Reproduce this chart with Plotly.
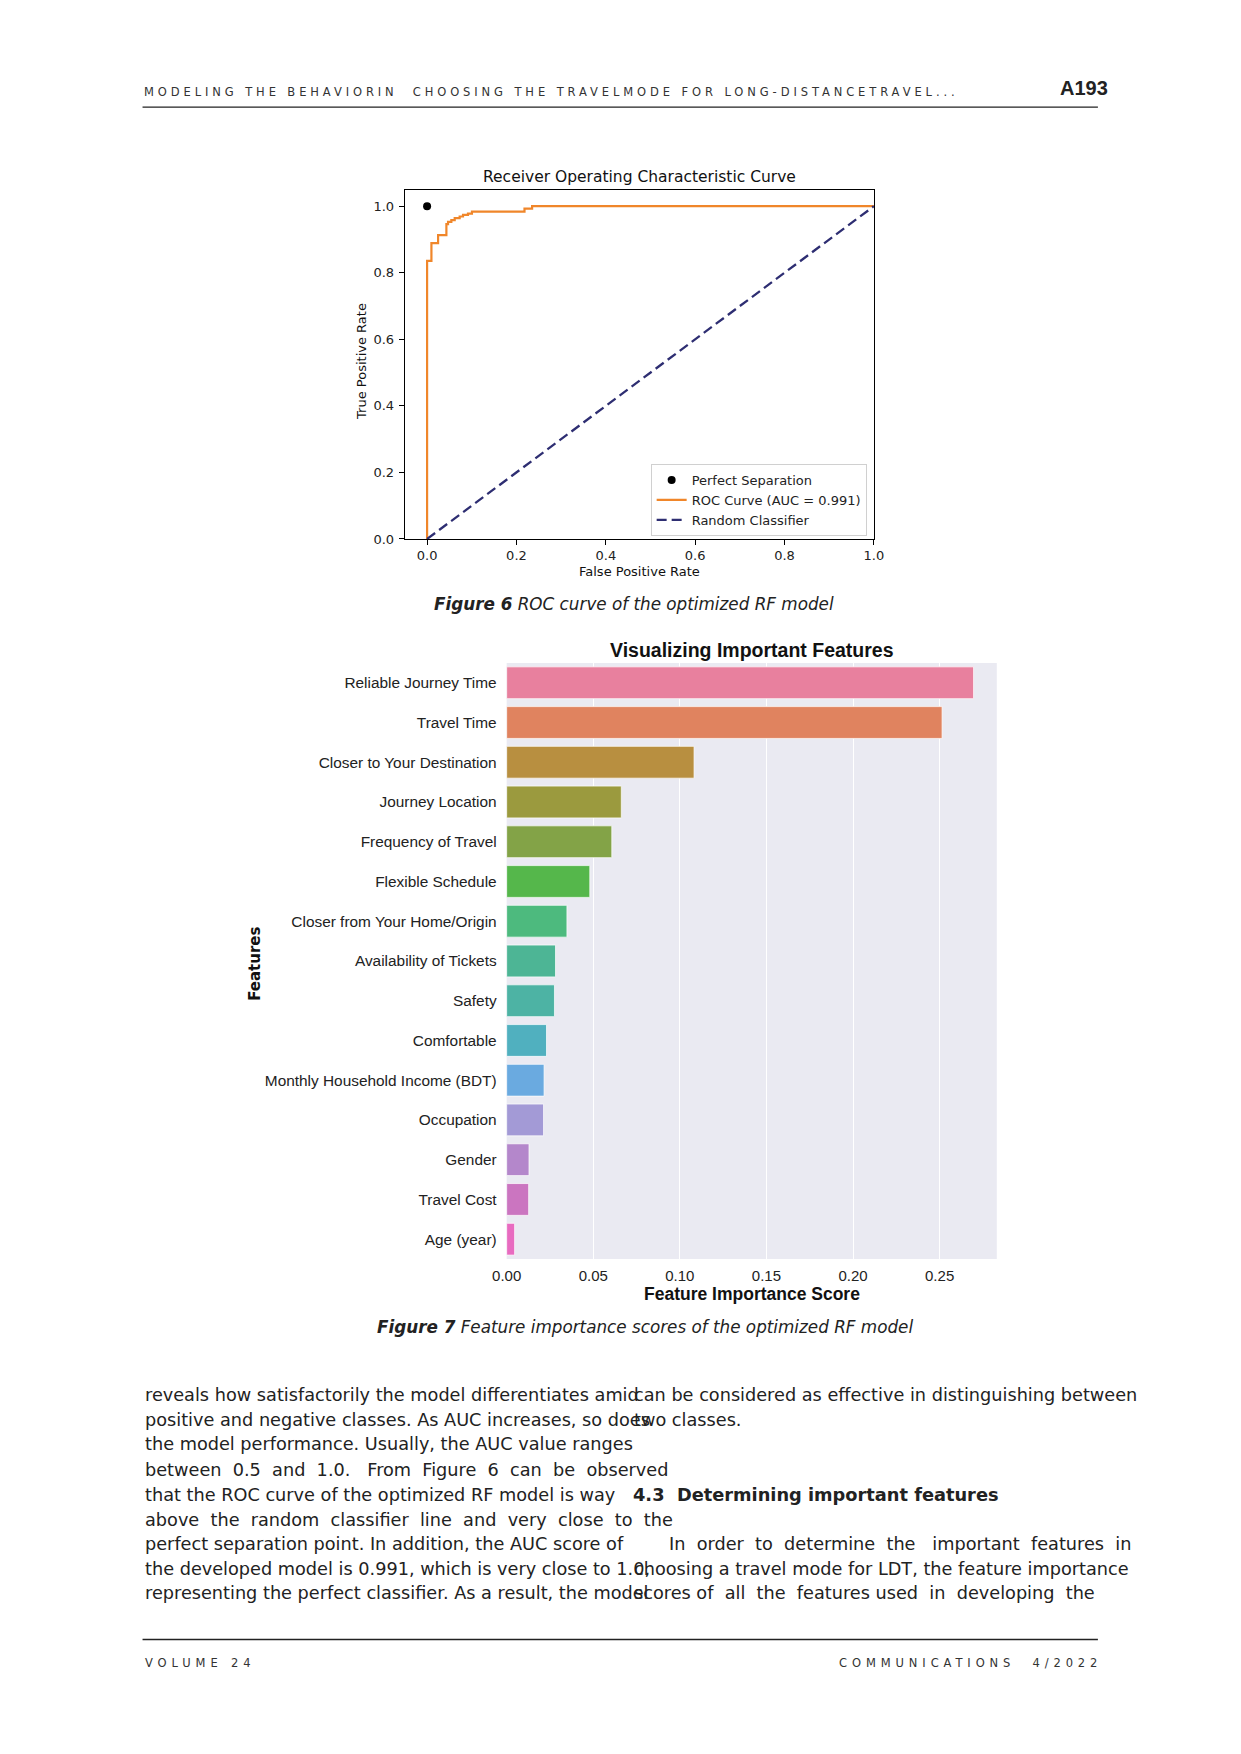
import plotly.graph_objects as go

W, H = 1241, 1754

# ---------------- data ----------------
roc_fpr = [0.0, 0.0, 0.0097, 0.0246, 0.0432, 0.0469, 0.0543, 0.0618, 0.0729,
           0.0804, 0.0915, 0.1004, 0.218, 0.235, 1.0]
roc_tpr = [0.0, 0.836, 0.889, 0.913, 0.946, 0.953, 0.958, 0.964, 0.969,
           0.974, 0.978, 0.984, 0.993, 1.0, 1.0]
random_fpr = [0.0, 1.0]
random_tpr = [0.0, 1.0]
perfect_fpr = [0.0]
perfect_tpr = [1.0]
roc_ticks = [0.0, 0.2, 0.4, 0.6, 0.8, 1.0]

features = ["Reliable Journey Time", "Travel Time", "Closer to Your Destination",
            "Journey Location", "Frequency of Travel", "Flexible Schedule",
            "Closer from Your Home/Origin", "Availability of Tickets", "Safety",
            "Comfortable", "Monthly Household Income (BDT)", "Occupation",
            "Gender", "Travel Cost", "Age (year)"]
scores = [0.2696, 0.2514, 0.1082, 0.0662, 0.0607, 0.0480, 0.0348, 0.0282,
          0.0276, 0.0230, 0.0216, 0.0213, 0.0129, 0.0127, 0.0046]
bar_ticks = [0.0, 0.05, 0.10, 0.15, 0.20, 0.25]

bar_colors = ["#E8809E", "#E0835F", "#B88F40", "#9B9A3E", "#83A347", "#55B74B",
              "#4DBA7E", "#4DB595", "#4DB3A4", "#50B0BF", "#6AAAE0", "#A39AD6",
              "#B487CB", "#CB75C0", "#E86BC0"]

S = "\u00a0"
left_lines = [
    "reveals how satisfactorily the model differentiates amid",
    "positive and negative classes. As AUC increases, so does",
    "the model performance. Usually, the AUC value ranges",
    f"between{S} 0.5{S} and{S} 1.0.{S}{S} From{S} Figure{S} 6{S} can{S} be{S} observed",
    "that the ROC curve of the optimized RF model is way",
    f"above{S} the{S} random{S} classifier{S} line{S} and{S} very{S} close{S} to{S} the",
    "perfect separation point. In addition, the AUC score of",
    "the developed model is 0.991, which is very close to 1.0,",
    "representing the perfect classifier. As a result, the model",
]
line_y = [1393.5, 1418.5, 1443, 1468.5, 1493.5, 1519, 1543.5, 1568.5, 1592.5]

# ---------------- helpers ----------------
def px(x):
    return x / W

def py(y):
    return 1 - y / H

FONT = "DejaVu Sans"
ARIAL = "Liberation Sans, Arial"

fig = go.Figure()

# ROC traces
fig.add_trace(go.Scatter(x=perfect_fpr, y=perfect_tpr, mode="markers",
                         marker=dict(color="black", size=8),
                         name="Perfect Separation", xaxis="x", yaxis="y"))
fig.add_trace(go.Scatter(x=roc_fpr, y=roc_tpr, mode="lines",
                         line=dict(color="#F0862A", width=2.2, shape="hv"),
                         name="ROC Curve (AUC = 0.991)", xaxis="x", yaxis="y"))
fig.add_trace(go.Scatter(x=random_fpr, y=random_tpr, mode="lines",
                         line=dict(color="#2E2E72", width=2.3, dash="10px,5px"),
                         name="Random Classifier", xaxis="x", yaxis="y"))

# Feature importance bars
fig.add_trace(go.Bar(x=scores, y=features, orientation="h",
                     marker=dict(color=bar_colors,
                                 line=dict(color="rgba(255,255,255,0.7)", width=1)),
                     width=0.8, showlegend=False, xaxis="x2", yaxis="y2"))

roc_axis = dict(showline=True, mirror=True, linecolor="black", linewidth=1,
                ticks="outside", ticklen=5, tickwidth=1, tickcolor="black",
                showgrid=False, zeroline=False, tickformat=".1f",
                tickfont=dict(family=FONT, size=13, color="#222"))

fig.update_layout(
    width=W, height=H,
    margin=dict(l=0, r=0, t=0, b=0),
    paper_bgcolor="white", plot_bgcolor="rgba(0,0,0,0)",
    xaxis=dict(domain=[px(389.6), px(868.4)], range=[-0.05, 1.0], anchor="y",
               tickvals=roc_ticks, ticklabelstandoff=-1, **roc_axis),
    yaxis=dict(domain=[py(533.4), py(182.4)], range=[0, 1.05], anchor="x",
               tickvals=roc_ticks, ticklabelstandoff=2, **roc_axis),
    xaxis2=dict(domain=[px(493.6), px(993.8)], range=[0, 0.283], anchor="y2",
                tickvals=bar_ticks, tickformat=".2f", showgrid=True,
                gridcolor="white", gridwidth=1.3, zeroline=False, showline=False,
                ticks="", ticklabelstandoff=6,
                tickfont=dict(family=ARIAL, size=15, color="#222")),
    yaxis2=dict(domain=[py(1256.8), py(657.9)], anchor="x2", type="category",
                categoryorder="array", categoryarray=features,
                range=[14.5, -0.5], showgrid=False, zeroline=False,
                showline=False, ticks="", ticklabelstandoff=9,
                tickfont=dict(family=ARIAL, size=15.4, color="#222")),
    legend=dict(x=px(861), y=py(530.5), xanchor="right", yanchor="bottom",
                bgcolor="rgba(255,255,255,0.85)", bordercolor="#D0D0D0",
                borderwidth=1, itemwidth=30,
                font=dict(family=FONT, size=13, color="#222")),
    bargap=0.2,
)

shapes = [
    dict(type="rect", xref="x2 domain", yref="y2 domain", x0=0, x1=1, y0=0, y1=1,
         fillcolor="#EAEAF2", line=dict(width=0), layer="below"),
    dict(type="line", xref="paper", yref="paper", x0=px(122), x1=px(1097),
         y0=py(99.5), y1=py(99.5), line=dict(color="#222", width=1.3)),
    dict(type="line", xref="paper", yref="paper", x0=px(122), x1=px(1097),
         y0=py(1639), y1=py(1639), line=dict(color="#222", width=1.3)),
]
fig.update_layout(shapes=shapes)

ann = []

def add(text, x, y, size, family=FONT, xanchor="left", color="#222", angle=0):
    ann.append(dict(text=text, x=px(x), y=py(y), xref="paper", yref="paper",
                    xanchor=xanchor, yanchor="middle", showarrow=False,
                    textangle=angle, font=dict(family=family, size=size, color=color)))

HS = '<span style="letter-spacing:3.9px">{}</span>'
FS = '<span style="letter-spacing:4.9px">{}</span>'

# header / footer
add(HS.format("MODELING THE BEHAVIORIN  CHOOSING THE TRAVELMODE FOR LONG-DISTANCETRAVEL..."),
    121, 84, 11.5, color="#333")
add("<b>A193</b>", 1109, 80, 20, family="Liberation Sans Narrow, Liberation Sans",
    xanchor="right", color="#222")
add(FS.format("VOLUME 24"), 122, 1663, 11.5, color="#333")
add(FS.format("COMMUNICATIONS  4/2022"), 1103, 1663, 11.5, xanchor="right", color="#333")

# ROC titles
add("Receiver Operating Characteristic Curve", 629.5, 169.4, 15.5, xanchor="center", color="#111")
add("False Positive Rate", 629.5, 566.4, 13, xanchor="center", color="#111")
add("True Positive Rate", 345.5, 355, 13, xanchor="center", color="#111", angle=-90)
add("<b><i>Figure 6</i></b><i> ROC curve of the optimized RF model</i>", 623.5, 598.5, 16.8,
    xanchor="center", color="#222")

# Bar chart titles
add("<b>Visualizing Important Features</b>", 743.7, 644.5, 19.5, family=ARIAL,
    xanchor="center", color="#111")
add("<b>Feature Importance Score</b>", 743.7, 1292.3, 17.5, family=ARIAL,
    xanchor="center", color="#111")
add("<b>Features</b>", 236, 960, 15, xanchor="center", color="#111", angle=-90)
add("<b><i>Figure 7</i></b><i> Feature importance scores of the optimized RF model</i>", 634.5, 1325, 16.8,
    xanchor="center", color="#222")

# body text
BODY = 17.7
for t, y in zip(left_lines, line_y):
    add(t, 122, y, BODY)
add("can be considered as effective in distinguishing between", 622, line_y[0], BODY)
add("two classes.", 622, line_y[1], BODY)
add(f"<b>4.3{S}{S}Determining important features</b>", 621, line_y[4], 17.8)
add(f"In{S} order{S} to{S} determine{S} the{S}{S} important{S} features{S} in",
    657, line_y[6], BODY)
add("choosing a travel mode for LDT, the feature importance", 622, line_y[7], BODY)
add(f"scores of{S} all{S} the{S} features used{S} in{S} developing{S} the",
    622, line_y[8], BODY)

fig.update_layout(annotations=ann)

fig.write_html("out.html")
